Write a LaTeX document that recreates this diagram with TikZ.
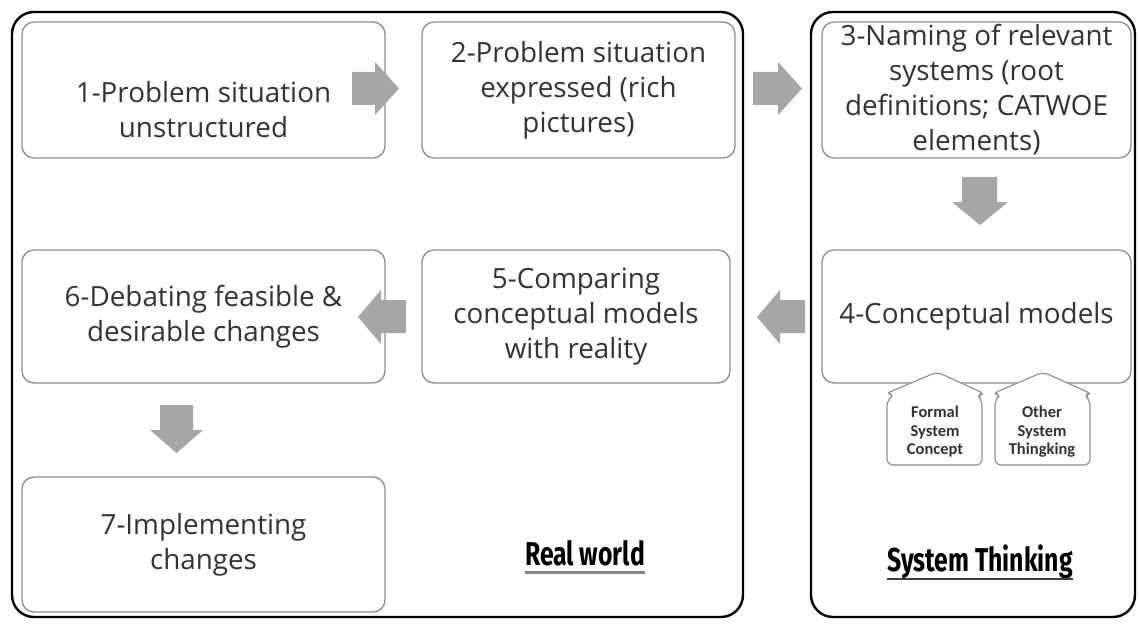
\documentclass[tikz,border=0pt]{standalone}
\usepackage{fontspec}
\setmainfont{Open Sans}
\newfontfamily\calfont{Carlito}
\newfontfamily\labfont{Fira Sans}
\definecolor{arrowgray}{RGB}{166,166,166}
\definecolor{boxgray}{RGB}{140,140,140}
\begin{document}
\begin{tikzpicture}[x=1pt,y=-1pt,
 box/.style={draw=boxgray, line width=1.3pt, rounded corners=12pt, fill=white, align=center, font=\fontsize{27.8}{35}\selectfont, inner sep=0pt, text=black!80},
 boxtext/.style={align=center, font=\fontsize{27.8}{35}\selectfont, inner sep=0pt, text=black!80},
 frame/.style={draw=black, line width=2.4pt, rounded corners=22pt},
 barrow/.style={fill=arrowgray, draw=none},
 callout/.style={draw=boxgray, line width=1.1pt, fill=white, rounded corners=6pt},
 ctext/.style={font=\calfont\bfseries\fontsize{16.5}{18.5}\selectfont, align=center, text=black!80},
 lab/.style={font=\labfont\bfseries\fontsize{33}{36}\selectfont, anchor=base}]
\useasboundingbox (0,0) rectangle (1139,623);
% frames
\draw[frame] (12,12) rectangle (743,617);
\draw[frame] (811,12) rectangle (1135,617);
% boxes
\node[box, minimum width=363pt, minimum height=136pt] (b1) at (203.5,90) {};
\node[boxtext] (t1) at ([yshift=-20pt]b1.center) {1-Problem situation\\unstructured};
\node[box, minimum width=313pt, minimum height=136pt] (b2) at (578.5,90) {2-Problem situation\\expressed (rich\\pictures)};
\node[box, minimum width=309pt, minimum height=136pt] (b3) at (976.5,90) {3-Naming of relevant\\systems (root\\definitions; CATWOE\\elements)};
\node[box, minimum width=309pt, minimum height=133pt] (b4) at (976.5,316.5) {4-Conceptual models};
\node[box, minimum width=308pt, minimum height=133pt] (b5) at (576,316.5) {5-Comparing\\conceptual models\\with reality};
\node[box, minimum width=363pt, minimum height=133pt] (b6) at (203.5,316.5) {6-Debating feasible \&\\desirable changes};
\node[box, minimum width=363pt, minimum height=135pt] (b7) at (203.5,544.5) {7-Implementing\\changes};
% block arrows
\fill[barrow] (352,72) -- (375,72) -- (375,62) -- (399,88.5) -- (375,115) -- (375,105) -- (352,105) -- cycle;
\fill[barrow] (753,72) -- (778,72) -- (778,62) -- (802,88.5) -- (778,115) -- (778,105) -- (753,105) -- cycle;
\fill[barrow] (962,177) -- (997,177) -- (997,202) -- (1008,202) -- (980,225) -- (952,202) -- (962,202) -- cycle;
\fill[barrow] (805,300) -- (780,300) -- (780,290) -- (757,317) -- (780,344) -- (780,333) -- (805,333) -- cycle;
\fill[barrow] (406,300) -- (381,300) -- (381,290) -- (358,317) -- (381,344) -- (381,333) -- (406,333) -- cycle;
\fill[barrow] (160,405) -- (193,405) -- (193,430) -- (203,430) -- (176.5,453) -- (150,430) -- (160,430) -- cycle;
% callouts
\draw[callout] (937,372) -- (985,394) -- (977,394) -- (982,400) -- (982,465) -- (887,465) -- (887,400) -- (895,394) -- (885,394) -- cycle;
\draw[callout] (1043,372) -- (1092,394) -- (1084,394) -- (1090,400) -- (1090,465) -- (995,465) -- (995,400) -- (1001,394) -- (992,394) -- cycle;
\node[ctext] (c1) at (935,432) {Formal\\System\\Concept};
\node[ctext] (c2) at (1042,432) {Other\\System\\Thingking};
% labels
\node[lab] (rw) at (585,565) {\scalebox{0.75}[1]{Real world}};
\draw[arrowgray!80!black, line width=3pt] (525,572) -- (645,572);
\node[lab] (st) at (980,571) {\scalebox{0.75}[1]{System Thinking}};
\draw[black!75, line width=2.5pt] (887,579) -- (1073,579);
\end{tikzpicture}
\end{document}
